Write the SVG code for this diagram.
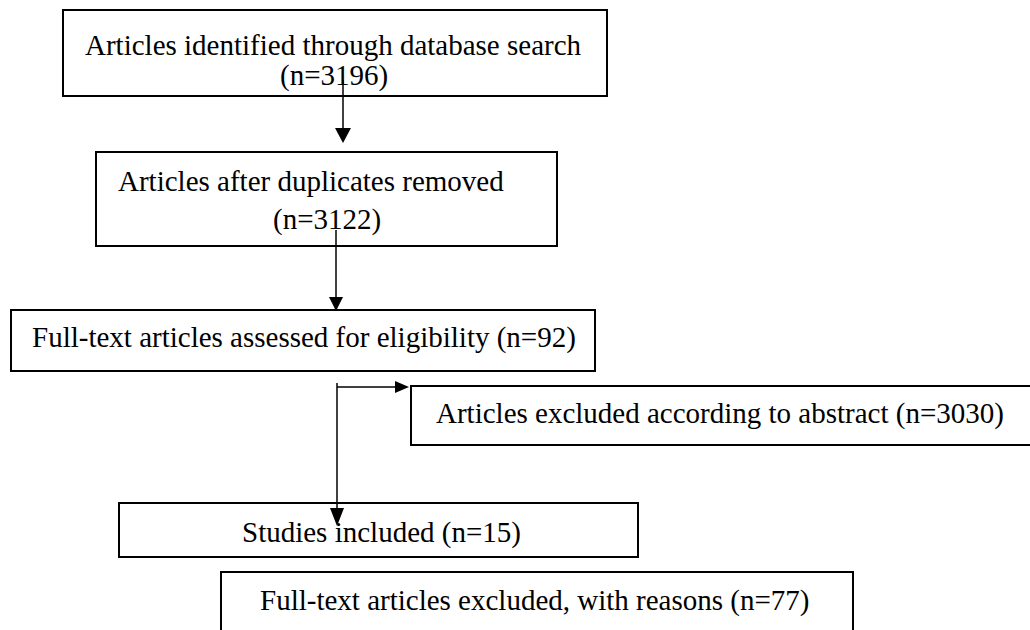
<svg xmlns="http://www.w3.org/2000/svg" width="1030" height="630" viewBox="0 0 1030 630">
<style>
.box{fill:#fff;stroke:#000;stroke-width:2}
.t{font-family:"Liberation Serif","Times New Roman",serif;font-size:29px;fill:#000}
.c{stroke:#000;stroke-width:1.5;fill:none}
.h{fill:#000;stroke:none}
</style>
<rect width="1030" height="630" fill="#fff"/>
<g id="n1"><rect class="box" x="63" y="10" width="544" height="86"/><text class="t" x="85" y="55">Articles identified through database search</text><text class="t" x="280" y="85">(n=3196)</text></g>
<g id="n2"><rect class="box" x="96" y="152" width="461" height="94"/><text class="t" x="118" y="191">Articles after duplicates removed</text><text class="t" x="273" y="229">(n=3122)</text></g>
<g id="n3"><rect class="box" x="11" y="310" width="584" height="61"/><text class="t" x="32" y="347">Full-text articles assessed for eligibility (n=92)</text></g>
<g id="n4"><rect class="box" x="411" y="386" width="625" height="59"/><text class="t" x="436" y="423">Articles excluded according to abstract (n=3030)</text></g>
<g id="n5"><rect class="box" x="119" y="503" width="519" height="54"/><text class="t" x="242" y="542">Studies included (n=15)</text></g>
<g id="n6"><rect class="box" x="221" y="572" width="632" height="70"/><text class="t" x="260" y="610">Full-text articles excluded, with reasons (n=77)</text></g>
<g id="connectors">
<line class="c" x1="343" y1="80" x2="343" y2="130"/><polygon class="h" points="335,128 351,128 343,143"/>
<line class="c" x1="336" y1="230" x2="336" y2="300"/><polygon class="h" points="329,297 343,297 336,311"/>
<line class="c" x1="337" y1="383" x2="337" y2="512"/><polygon class="h" points="330,508 344,508 337,526"/>
<line class="c" x1="337" y1="387" x2="397" y2="387"/><polygon class="h" points="395,381 395,393 409,387"/>
</g>
</svg>
